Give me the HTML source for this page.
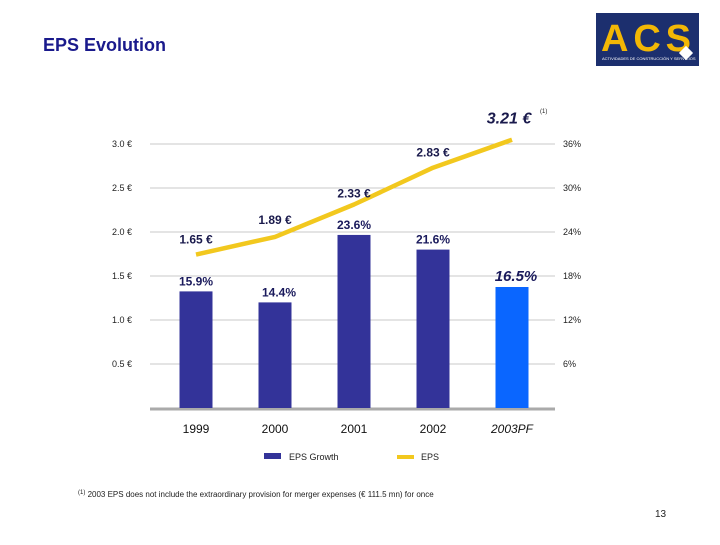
<!DOCTYPE html>
<html><head><meta charset="utf-8"><style>
body{margin:0;background:#fff;width:720px;height:540px;overflow:hidden;font-family:"Liberation Sans",sans-serif}
</style></head><body>
<svg width="720" height="540" xmlns="http://www.w3.org/2000/svg">
<text x="43" y="51" font-size="18" font-weight="bold" fill="#1a1a8c">EPS Evolution</text>
<g>
<rect x="596" y="13" width="103" height="53" fill="#1c2f6e"/>
<text x="601" y="51" font-size="38" font-weight="bold" fill="#f2b705" textLength="90">ACS</text>
<text x="602" y="60" font-size="4" fill="#fff">ACTIVIDADES DE CONSTRUCCIÓN Y SERVICIOS</text>
<rect x="681" y="48" width="10" height="10" fill="#fff" transform="rotate(45 686 53)"/>
</g>
<g id="grid"></g>
<g id="bars"></g>
<g id="line"></g>
<g>
<rect x="264" y="453" width="17" height="6" fill="#333399"/>
<text x="289" y="460" font-size="9" fill="#222">EPS Growth</text>
<line x1="397" y1="457" x2="414" y2="457" stroke="#f2c81e" stroke-width="4"/>
<text x="421" y="460" font-size="9" fill="#222">EPS</text>
</g>
<text x="78" y="497" font-size="8" fill="#222"><tspan font-size="6" dy="-3">(1)</tspan><tspan dy="3"> 2003 EPS does not include the extraordinary provision for merger expenses (€ 111.5 mn) for once</tspan></text>
<text x="655" y="517" font-size="10" fill="#222">13</text>
</svg>
<script>
const categories=["1999","2000","2001","2002","2003PF"];
const growth=[15.9,14.4,23.6,21.6,16.5];
const eps=[1.65,1.89,2.33,2.83,3.21];
const leftTicks=[0.5,1.0,1.5,2.0,2.5,3.0];
const rightTicks=[6,12,18,24,30,36];
const NS="http://www.w3.org/2000/svg";
const base=408;
const xC=i=>196+i*79;
const yE=v=>base-v*88;
const yL=v=>376-v*73.6;
const yP=p=>base-p*44/6;
function mk(t,a,p){const e=document.createElementNS(NS,t);for(const k in a)e.setAttribute(k,a[k]);p.appendChild(e);return e;}
const g=document.getElementById('grid'),b=document.getElementById('bars'),l=document.getElementById('line');
leftTicks.forEach((v,i)=>{
 const y=yE(v);
 const ln=mk('line',{x1:150,x2:555,y1:y,y2:y,stroke:'#c8c8c8','stroke-width':1},g);
 
 
 const t=mk('text',{x:112,y:y+3,'font-size':9,fill:'#222'},g);t.textContent=v.toFixed(1)+' €';
 
 
 const r=mk('text',{x:563,y:yP(rightTicks[i])+3,'font-size':9,fill:'#222'},g);r.textContent=rightTicks[i]+'%';
 
 
});
const ax=mk('line',{x1:150,x2:555,y1:base+1,y2:base+1,stroke:'#aaa','stroke-width':3},g);


categories.forEach((c,i)=>{
 const last=i===4;
 const y=yP(growth[i]);
 const r=mk('rect',{x:xC(i)-16.5,y:y,width:33,height:base-y,fill:last?'#0a66ff':'#333399'},b);
 
 
 const lbl=mk('text',{x:xC(i)+(last?4:(i===1?4:0)),y:last?y-6:(i===3?y-6:y-6),'text-anchor':'middle','font-size':last?15:12,'font-weight':'bold','font-style':last?'italic':'normal',fill:'#1a1a5c'},b);
 lbl.textContent=growth[i].toFixed(1)+'%';
 
 
 const xl=mk('text',{x:xC(i),y:433,'text-anchor':'middle','font-size':12,'font-style':last?'italic':'normal',fill:'#111'},b);
 xl.textContent=c;
 
 
});
const pts=eps.map((v,i)=>[xC(i),yL(v)]);
const pl=mk('polyline',{points:pts.map(p=>p.join(',')).join(' '),fill:'none',stroke:'#f2c81e','stroke-width':4.5,'stroke-linejoin':'round'},l);


const offs=[[0,-11],[0,-13],[0,-7],[0,-11],[-3,-16]];
eps.forEach((v,i)=>{
 const last=i===4;
 const t=mk('text',{x:pts[i][0]+offs[i][0],y:pts[i][1]+offs[i][1],'text-anchor':'middle','font-size':last?16:12,'font-weight':'bold','font-style':last?'italic':'normal',fill:'#1a1a4c'},l);
 t.textContent=v.toFixed(2)+' €';
 
 
});
const sup=mk('text',{x:540,y:113,'font-size':6,fill:'#222'},l);sup.textContent='(1)';


</script>
</body></html>
